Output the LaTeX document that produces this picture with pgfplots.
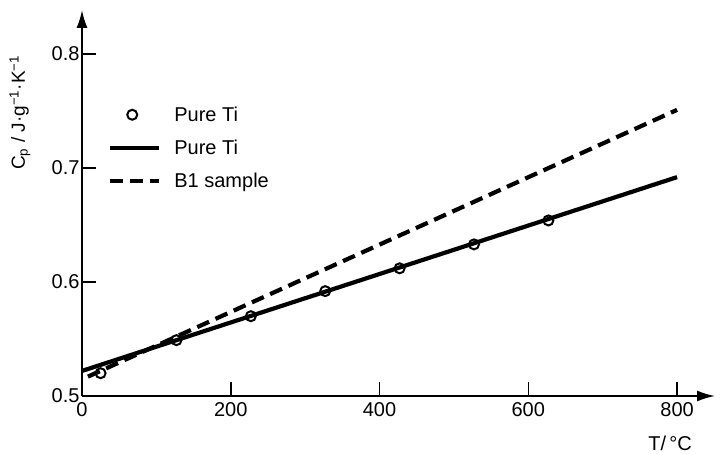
\documentclass[border=0pt]{standalone}
\usepackage{pgfplots}
\pgfplotsset{compat=1.18}
\usetikzlibrary{arrows.meta}
\usepackage{fontspec}
\setmainfont{Liberation Sans}
\pgfplotsset{
  linelegend/.style={legend image code/.code={\draw[##1] (0pt,0pt) -- (49pt,0pt);}},
  marklegend/.style={legend image code/.code={\draw[##1] plot coordinates {(22pt,0pt)};}},
  tistyle/.style={black, line width=4.2pt},
  b1style/.style={black, line width=4.2pt, dash pattern=on 13pt off 7pt},
  ptstyle/.style={only marks, mark=o, mark size=5pt, mark options={line width=2pt, fill=white, draw=black, solid}},
}
\begin{document}
\begin{tikzpicture}[x=1pt,y=1pt]
\begin{axis}[
  at={(0pt,0pt)}, anchor=origin,
  scale only axis,
  width=633pt, height=386pt,
  xmin=0, xmax=851, ymin=0.5, ymax=0.8386,
  axis x line=bottom, axis y line=left,
  axis line style={line width=1.8pt, -{Latex[length=18pt,width=11pt]}},
  tick align=inside,
  major tick length=14pt,
  tick style={line width=1.6pt, black},
  xtick={0,200,400,600,800},
  ytick={0.5,0.6,0.7,0.8},
  yticklabel style={/pgf/number format/fixed,/pgf/number format/precision=1,/pgf/number format/fixed zerofill},
  /pgf/number format/assume math mode=true,
  ticklabel style={font=\fontsize{20}{24}\selectfont},
  xticklabel style={yshift=-3pt},
  yticklabel style={xshift=1pt},
  xlabel={T/\,°C},
  xlabel style={at={(axis description cs:0.929,0)}, anchor=center, yshift=-47pt, font=\fontsize{20}{24}\selectfont},
  ylabel={C\textsubscript{p} / J·g\textsuperscript{−1}·K\textsuperscript{−1}},
  ylabel style={at={(axis description cs:-0.098,0.734)}, anchor=center, font=\fontsize{19}{22}\selectfont},
  legend style={draw=none, fill=none, at={(axis description cs:0.041,0.755)}, anchor=north west,
    font=\fontsize{20}{24}\selectfont, row sep=13pt, inner sep=0pt,
    /tikz/every odd column/.style={column sep=11pt}},
  legend cell align=left,
  clip=false,
]
\addlegendimage{ptstyle, marklegend}
\addlegendentry{Pure Ti}
\addlegendimage{tistyle, linelegend}
\addlegendentry{Pure Ti}
\addlegendimage{b1style, linelegend}
\addlegendentry{B1 sample}
\addplot[tistyle, forget plot] coordinates {(0,0.522) (800,0.692)};
\addplot[b1style, forget plot] coordinates {(8,0.517) (800,0.751)};
\addplot[ptstyle, forget plot]
  coordinates {(25,0.520) (127,0.549) (227,0.570) (327,0.592) (427,0.612) (527,0.633) (627,0.654)};
\end{axis}
\pgfresetboundingbox
\path (-82pt,-57pt) rectangle (641pt,396pt);
\end{tikzpicture}
\end{document}
